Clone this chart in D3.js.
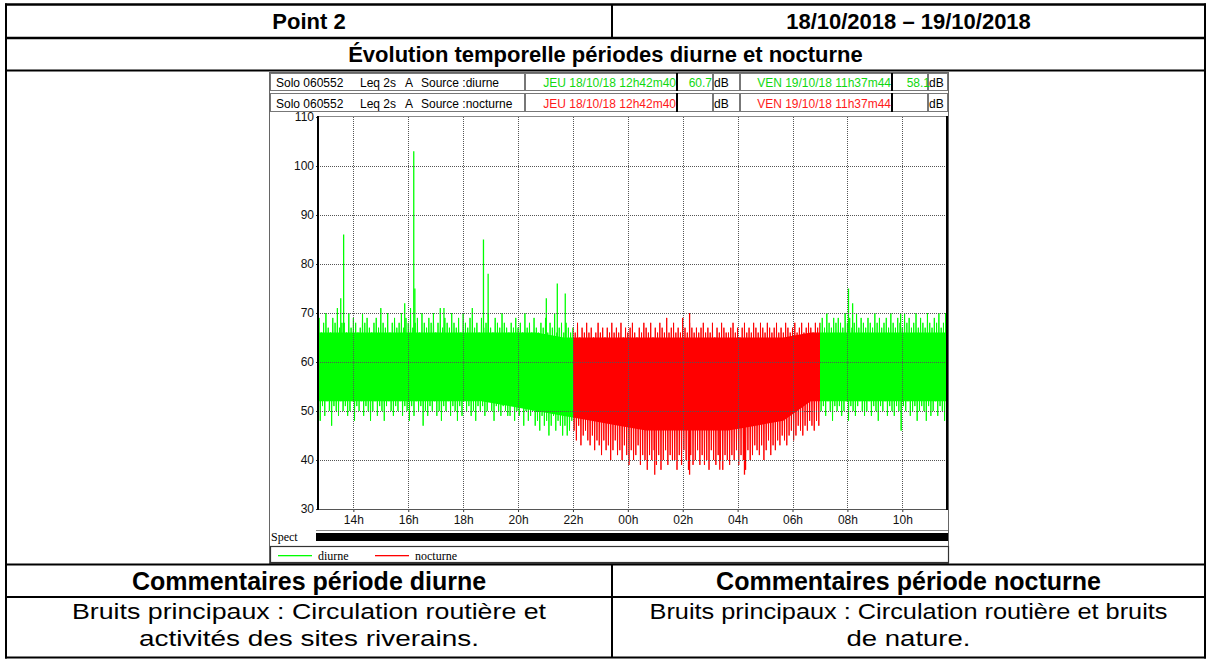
<!DOCTYPE html>
<html><head><meta charset="utf-8">
<script src="https://cdn.jsdelivr.net/npm/d3@7"></script>
<style>body{margin:0;background:#fff}svg{display:block}</style>
</head><body><svg id="c" width="1211" height="659"></svg>
<script>
// ---------- DATA ----------
const startHour = 12 + 42/60 + 40/3600;      // JEU 18/10/18 12h42m40
const endHour = 24 + 11 + 37/60 + 44/3600;   // VEN 19/10/18 11h37m44
const nightStart = 22, nightEnd = 31;        // 22h -> 07h (next day)
const gridStartHour = 12 + 40/60;            // 5-min sampling grid starting 12h40
const stepHours = 5/60;
// upper envelope (dB) per 5-min bin, one row per hour (12h40, 13h40, ...)
const levelMax = [
 67,69,66,68,70,67,66,69,68,71,67,68,
 68,66,70,67,69,68,66,67,70,68,69,67,
 66,68,69,67,71,68,67,70,66,68,69,67,
 68,70,67,69,68,71,67,68,69,66,70,68,
 67,69,68,70,66,68,71,67,69,68,67,70,
 68,67,69,66,70,68,67,69,71,67,68,66,
 69,67,68,70,67,66,69,68,67,70,68,67,
 66,68,67,69,67,68,66,70,67,68,66,69,
 67,66,68,67,69,66,68,67,70,66,67,68,
 66,68,67,66,67,66,68,65,67,66,68,66,
 67,65,66,68,66,67,65,67,66,68,66,67,
 66,68,65,67,66,67,68,66,65,67,66,68,
 67,66,68,65,67,66,68,67,66,69,66,67,
 68,66,67,66,69,67,66,68,67,66,67,66,
 67,68,66,67,66,68,65,67,66,68,67,66,
 66,67,68,66,67,65,67,68,66,67,66,68,
 67,66,68,67,66,68,67,66,67,68,66,67,
 66,68,67,66,67,68,66,67,68,66,67,68,
 67,66,68,67,68,69,67,70,68,67,69,68,
 69,68,67,70,68,69,67,68,70,67,69,68,
 67,69,68,67,70,68,69,67,68,69,67,70,
 68,67,69,68,67,70,68,69,67,68,70,67,
 69,68,67,70,68,67,69,68,70,67,68,69,
 68];
// lower envelope (dB) per 5-min bin
const levelMin = [
 50,48,51,49,52,50,47,51,50,49,52,50,
 51,49,50,52,48,51,50,52,49,51,50,48,
 50,52,49,51,50,48,51,52,50,49,51,50,
 52,49,51,50,48,51,49,52,50,51,47,50,
 49,51,50,52,49,50,48,51,50,52,49,51,
 50,48,51,49,52,50,51,49,50,48,51,50,
 51,49,50,52,50,48,51,50,49,51,50,49,
 49,51,48,50,49,51,47,50,48,49,50,47,
 48,46,49,47,48,45,47,49,46,48,47,45,
 47,45,46,48,46,44,47,43,45,46,44,43,
 45,42,44,43,41,44,42,43,40,42,44,41,
 42,40,43,41,39,42,40,41,43,39,41,40,
 38,41,40,42,39,41,38,40,42,39,41,40,
 40,38,41,39,42,40,38,41,39,40,42,39,
 41,39,40,38,42,40,39,41,40,38,41,40,
 39,41,40,42,39,41,40,38,42,40,41,43,
 42,41,43,40,42,44,41,43,42,44,43,45,
 44,43,45,46,44,45,47,46,45,47,46,48,
 47,46,48,47,50,51,49,52,50,48,51,50,
 51,49,50,52,48,51,50,49,51,52,50,49,
 50,52,49,51,50,48,51,50,52,49,51,50,
 49,51,50,46,51,50,52,49,50,51,48,50,
 51,50,48,51,49,50,52,49,51,50,48,51,
 50];
// dense core band, hourly from 12h40
const coreMax = [66,66,66,66,66,66,66,66,66,65,65,65,65,65,65,65,65,65,66,66,66,66,66,66];
const coreMin = [52,52,52,52,52,52,52,51,50,49,48,47,46,46,46,46,47,48,52,52,52,52,52,52];
// isolated peaks
const peakHours  = [13.54,13.645,15.87,16.20,16.24,17.30,18.74,18.91,21.03,21.43,21.72,26.25,32.04,32.19,33.94,35.58];
const peakValues = [73,   86,    72,   103,  75,   71,   85,   78,   73,   76,   74,   70,   75,   72,   70,   70];
const dipHours  = [24.98,26.25,27.35,28.25];
const dipValues = [37,   37,   38,   37];
const yTicks = [30,40,50,60,70,80,90,100,110];
const xTickHours = [14,16,18,20,22,24,26,28,30,32,34];
const xTickLabels = ["14h","16h","18h","20h","22h","00h","02h","04h","06h","08h","10h"];
const seriesNames = ["diurne","nocturne"];
const seriesColors = ["#00ff00","#ff0000"];
const textColors = ["#10d810","#ff1a1a"];
const infoStart = ["JEU 18/10/18 12h42m40","JEU 18/10/18 12h42m40"];
const infoEnd = ["VEN 19/10/18 11h37m44","VEN 19/10/18 11h37m44"];
const infoLeqStart = ["60.7",""];
const infoLeqEnd = ["58.1",""];

// ---------- DRAW ----------
const svg = d3.select("#c");
svg.append("rect").attr("width",1211).attr("height",659).attr("fill","#fff");
const SANS = "'Liberation Sans', Arial, sans-serif";
const SERIF = "'Liberation Serif', 'Times New Roman', serif";

const x = d3.scaleLinear().domain([startHour, endHour]).range([318, 947]);
const y = d3.scaleLinear().domain([30, 110]).range([509, 117]);

const defs = svg.append("defs");
defs.append("clipPath").attr("id","plotclip").append("rect")
  .attr("x",318).attr("y",117).attr("width",629).attr("height",392);
const dayClip = defs.append("clipPath").attr("id","dayclip");
dayClip.append("rect").attr("x",x(startHour)).attr("y",0).attr("width",x(nightStart)-x(startHour)).attr("height",659);
dayClip.append("rect").attr("x",x(nightEnd)).attr("y",0).attr("width",x(endHour)-x(nightEnd)).attr("height",659);
defs.append("clipPath").attr("id","nightclip").append("rect")
  .attr("x",x(nightStart)).attr("y",0).attr("width",x(nightEnd)-x(nightStart)).attr("height",659);

const core = coreMax.map((v,k)=>({t: gridStartHour + k, hi: v, lo: coreMin[k]}));
const zig = [];
levelMax.forEach((v,i)=>{
  zig.push({t: gridStartHour + i*stepHours, v: v});
  zig.push({t: gridStartHour + (i+0.5)*stepHours, v: levelMin[i]});
});

const plot = svg.append("g").attr("clip-path","url(#plotclip)");
[["dayclip",0],["nightclip",1]].forEach(([clip,si])=>{
  const col = seriesColors[si];
  const g = plot.append("g").attr("clip-path",`url(#${clip})`);
  g.append("path").datum(core)
    .attr("d", d3.area().x(d=>x(d.t)).y0(d=>y(d.lo)).y1(d=>y(d.hi)))
    .attr("fill", col);
  g.append("path").datum(zig)
    .attr("d", d3.line().x(d=>x(d.t)).y(d=>y(d.v)))
    .attr("fill","none").attr("stroke",col).attr("stroke-width",1);
  g.selectAll("line.pk").data(peakHours.map((t,i)=>({t,v:peakValues[i]}))).enter()
    .append("line").attr("x1",d=>x(d.t)).attr("x2",d=>x(d.t))
    .attr("y1",y(62)).attr("y2",d=>y(d.v)).attr("stroke",col).attr("stroke-width",1.3);
  g.selectAll("line.dp").data(dipHours.map((t,i)=>({t,v:dipValues[i]}))).enter()
    .append("line").attr("x1",d=>x(d.t)).attr("x2",d=>x(d.t))
    .attr("y1",y(48)).attr("y2",d=>y(d.v)).attr("stroke",col).attr("stroke-width",1.3);
});

// grid over data
const grid = svg.append("g").attr("stroke","#555").attr("stroke-width",1).attr("stroke-dasharray","1,1");
yTicks.filter(v=>v>30 && v<110).forEach(v=>{
  grid.append("line").attr("x1",318).attr("x2",947).attr("y1",Math.round(y(v))+0.5).attr("y2",Math.round(y(v))+0.5);
});
xTickHours.forEach(h=>{
  grid.append("line").attr("x1",Math.round(x(h))+0.5).attr("x2",Math.round(x(h))+0.5).attr("y1",117).attr("y2",509);
});

// axes
const yAxis = svg.append("g").attr("transform","translate(318,0)")
  .call(d3.axisLeft(y).tickValues(yTicks).tickSize(2).tickPadding(2));
yAxis.select(".domain").remove();
yAxis.selectAll("text").attr("font-family",SANS).attr("font-size",12).attr("fill","#111");
yAxis.selectAll("line").attr("stroke","#333");
const xAxis = svg.append("g").attr("transform","translate(0,509)")
  .call(d3.axisBottom(x).tickValues(xTickHours).tickFormat((d,i)=>xTickLabels[i]).tickSize(3).tickPadding(3));
xAxis.select(".domain").remove();
xAxis.selectAll("text").attr("font-family",SANS).attr("font-size",12).attr("fill","#111");
xAxis.selectAll("line").attr("stroke","#333");

// plot frame
svg.append("line").attr("x1",318).attr("x2",948).attr("y1",116.5).attr("y2",116.5).attr("stroke","#888");
svg.append("line").attr("x1",318).attr("x2",948).attr("y1",509.5).attr("y2",509.5).attr("stroke","#555");
svg.append("line").attr("x1",318).attr("x2",318).attr("y1",116).attr("y2",510).attr("stroke","#000").attr("stroke-width",2);
svg.append("line").attr("x1",947).attr("x2",947).attr("y1",116).attr("y2",510).attr("stroke","#000").attr("stroke-width",2);
svg.append("line").attr("x1",316).attr("x2",948).attr("y1",530.5).attr("y2",530.5).attr("stroke","#888");

// panel outer frame
svg.append("rect").attr("x",269.5).attr("y",72.5).attr("width",679).attr("height",491)
  .attr("fill","none").attr("stroke","#666").attr("stroke-width",1);

// info rows
const boxEdges = [270,525,677,713,740,892,928,948];
const rowsY = [[73,91],[93,112]];
rowsY.forEach(([y0,y1],r)=>{
  for (let b=0;b<boxEdges.length-1;b++){
    svg.append("rect").attr("x",boxEdges[b]+0.5).attr("y",y0+0.5).attr("width",boxEdges[b+1]-boxEdges[b]-1).attr("height",y1-y0-1)
      .attr("fill","#fff").attr("stroke","#777");
  }
  [677,892].forEach(xx=>svg.append("line").attr("x1",xx).attr("x2",xx).attr("y1",y0).attr("y2",y1).attr("stroke","#000").attr("stroke-width",2));
  const base = y1 - 4.5;
  const t = (s,xx,anchor,col)=>svg.append("text").attr("x",xx).attr("y",base).attr("text-anchor",anchor||"start")
    .attr("font-family",SANS).attr("font-size",12).attr("fill",col||"#000").text(s);
  t("Solo 060552",276); t("Leq 2s",360); t("A",405); t("Source :"+seriesNames[r],421);
  t(infoStart[r],676,"end",textColors[r]);
  t(infoLeqStart[r],712,"end",textColors[r]);
  t("dB",714);
  t(infoEnd[r],891,"end",textColors[r]);
  t(infoLeqEnd[r],930,"end",textColors[r]);
  t("dB",929);
});

// Spect bar
svg.append("text").attr("x",271).attr("y",541).attr("font-family",SERIF).attr("font-size",12).attr("fill","#000").text("Spect");
svg.append("rect").attr("x",316).attr("y",533).attr("width",632).attr("height",8).attr("fill","#000");

// legend
svg.append("rect").attr("x",270.5).attr("y",546.5).attr("width",678).attr("height",16).attr("fill","#fff").attr("stroke","#333").attr("stroke-width",1.2);
[[278,318],[375,415]].forEach(([lx,tx],i)=>{
  svg.append("rect").attr("x",lx).attr("y",555).attr("width",34).attr("height",1.3).attr("fill",seriesColors[i]);
  svg.append("text").attr("x",tx).attr("y",559.5).attr("font-family",SERIF).attr("font-size",12).attr("fill","#000").text(seriesNames[i]);
});

// table
const T = svg.append("g").attr("stroke","#000");
const hl = (yy,w)=>T.append("line").attr("x1",5).attr("x2",1206).attr("y1",yy).attr("y2",yy).attr("stroke-width",w);
hl(4.5,2.5); hl(38,2.5); hl(70.5,2); hl(564.5,2); hl(597,2); hl(657.5,2);
T.append("line").attr("x1",6).attr("x2",6).attr("y1",3.5).attr("y2",658.5).attr("stroke-width",2);
T.append("line").attr("x1",1205).attr("x2",1205).attr("y1",3.5).attr("y2",658.5).attr("stroke-width",2);
T.append("line").attr("x1",612).attr("x2",612).attr("y1",4.5).attr("y2",38).attr("stroke-width",2);
T.append("line").attr("x1",612).attr("x2",612).attr("y1",564.5).attr("y2",657.5).attr("stroke-width",2);

const txt = (s,xx,yy,bold,size,len)=>{
  const el = svg.append("text").attr("x",xx).attr("y",yy).attr("text-anchor","middle")
    .attr("font-family",SANS).attr("font-size",size).attr("font-weight",bold?"bold":"normal").attr("fill","#000").text(s);
  if (len) el.attr("textLength",len).attr("lengthAdjust","spacingAndGlyphs");
  return el;
};
txt("Point 2",309,29,true,22);
txt("18/10/2018 \u2013 19/10/2018",908.5,29,true,22);
txt("\u00c9volution temporelle p\u00e9riodes diurne et nocturne",605.5,62,true,22);
txt("Commentaires p\u00e9riode diurne",309,590,true,25);
txt("Commentaires p\u00e9riode nocturne",908.5,590,true,25);
txt("Bruits principaux : Circulation routi\u00e8re et",309,619,false,22.5,474);
txt("activit\u00e9s des sites riverains.",309,646,false,22.5,340);
txt("Bruits principaux : Circulation routi\u00e8re et bruits",908.5,619,false,22.5,518);
txt("de nature.",908.5,646,false,22.5,124);
</script></body></html>
